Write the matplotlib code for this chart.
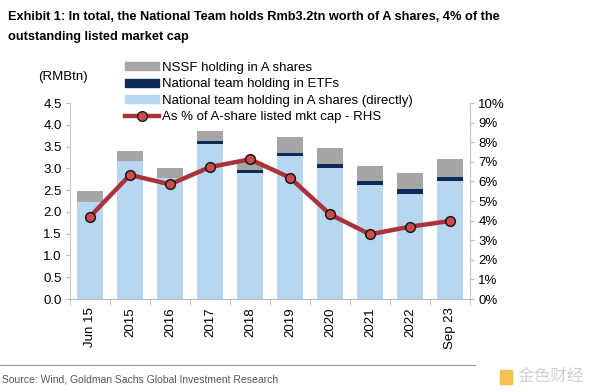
import matplotlib
matplotlib.use("Agg")
import matplotlib.pyplot as plt
from matplotlib.patches import Patch
from matplotlib.lines import Line2D
import numpy as np

# -------- data --------
periods    = ["Jun 15", "2015", "2016", "2017", "2018", "2019", "2020", "2021", "2022", "Sep 23"]
direct     = [2.23, 3.17, 2.78, 3.56, 2.90, 3.28, 3.00, 2.61, 2.42, 2.72]   # RMBtn
etf        = [0.00, 0.00, 0.00, 0.06, 0.06, 0.07, 0.09, 0.10, 0.10, 0.08]
nssf       = [0.25, 0.22, 0.22, 0.24, 0.19, 0.36, 0.38, 0.35, 0.38, 0.42]
pct_mktcap = [4.2, 6.33, 5.85, 6.73, 7.13, 6.19, 4.32, 3.30, 3.69, 3.98]   # % RHS

C_DIRECT = "#b7d7f0"
C_ETF    = "#0e2b57"
C_NSSF   = "#a5a5a5"
C_LINE   = "#a8343a"
C_MARK   = "#cc4b4f"

plt.rcParams["font.family"] = ["Liberation Sans", "DejaVu Sans"]

fig = plt.figure(figsize=(6.0, 3.92), dpi=100)
ax = fig.add_axes([70/600, 1-299/392, 400/600, 196/392])

x = np.arange(len(periods))
d = np.array(direct); e = np.array(etf); n = np.array(nssf)
w = 0.65
ax.bar(x, d, w, color=C_DIRECT, zorder=2)
ax.bar(x, e, w, bottom=d, color=C_ETF, zorder=2)
ax.bar(x, n, w, bottom=d + e, color=C_NSSF, zorder=2)

ax.set_xlim(-0.5, len(periods) - 0.5)
ax.set_ylim(0, 4.5)
ax.set_yticks(np.arange(0, 4.51, 0.5))
ax.set_yticklabels([f"{v:.1f}" for v in np.arange(0, 4.51, 0.5)], fontsize=9.5)
ax.set_xticks(x)
ax.set_xticklabels(periods, rotation=90, fontsize=9.5)
ax.tick_params(axis="x", length=0, pad=6)
ax.set_xticks(np.arange(-0.5, len(periods), 1), minor=True)
ax.tick_params(axis="x", which="minor", length=4, color="#bbbbbb", direction="out")
ax.tick_params(axis="y", length=3, color="#bbbbbb", pad=3)
ax.spines["top"].set_visible(False)
ax.spines["left"].set_color("#c8c8c8")
ax.spines["right"].set_color("#c8c8c8")
ax.spines["bottom"].set_color("#bbbbbb")

ax2 = ax.twinx()
ax2.plot(x, pct_mktcap, color=C_LINE, lw=3.2, marker="o", ms=7,
         markerfacecolor=C_MARK, markeredgecolor="#1a1a1a", markeredgewidth=1.1, zorder=3)
ax2.set_ylim(0, 10)
ax2.set_yticks(range(0, 11))
ax2.set_yticklabels([f"{v}%" for v in range(0, 11)], fontsize=9.5)
ax2.tick_params(axis="y", length=3, color="#bbbbbb", pad=3)
ax2.spines["top"].set_visible(False)
ax2.spines["right"].set_color("#c8c8c8")
ax2.spines["left"].set_visible(False)
ax2.spines["bottom"].set_visible(False)

fig.text(38/600, 1-77/392, "(RMBtn)", fontsize=9.5, va="center")

handles = [
    Patch(color=C_NSSF, label="NSSF holding in A shares"),
    Patch(color=C_ETF, label="National team holding in ETFs"),
    Patch(color=C_DIRECT, label="National team holding in A shares (directly)"),
    Line2D([0], [0], color=C_LINE, lw=3.2, marker="o", ms=7, markerfacecolor=C_MARK,
           markeredgecolor="#1a1a1a", label="As % of A-share listed mkt cap - RHS"),
]
fig.legend(handles=handles, loc="upper left", bbox_to_anchor=(125/600, 1-62/392),
           frameon=False, fontsize=9.5, handlelength=2.6, handleheight=0.55,
           labelspacing=0.33, handletextpad=0.2, borderpad=0, borderaxespad=0)

title_font = ["Liberation Sans Narrow", "Liberation Sans", "DejaVu Sans"]
fig.text(8/600, 1-17/392, "Exhibit 1: In total, the National Team holds Rmb3.2tn worth of A shares, 4% of the",
         fontsize=9.2, fontweight="bold", family=title_font, va="center")
fig.text(8/600, 1-37/392, "outstanding listed market cap",
         fontsize=9.2, fontweight="bold", family=title_font, va="center")

fig.add_artist(Line2D([0, 475/600], [1-365/392, 1-365/392], color="#999999", lw=0.8))
fig.text(2/600, 1-379/392, "Source: Wind, Goldman Sachs Global Investment Research",
         fontsize=7.5, family=title_font, color="#555555", va="center")

# watermark
fig.text(518/600, 1-376/392, "金色财经", fontsize=12, color="#d0d0d0", va="center",
         family=["Noto Sans CJK SC", "DejaVu Sans"])
fig.add_artist(plt.Rectangle((500/600, 1-384/392), 12/600, 14/392, color="#f0b429", alpha=0.8))

fig.savefig("out.png", dpi=100)
